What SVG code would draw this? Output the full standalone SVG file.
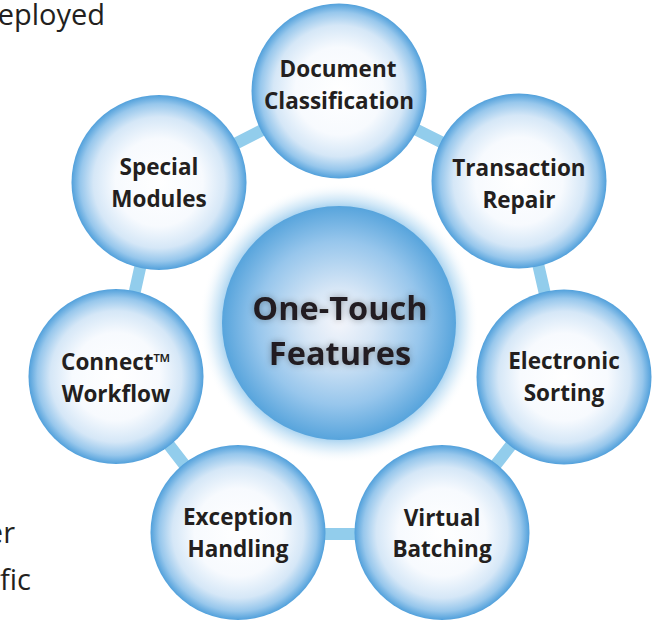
<svg xmlns="http://www.w3.org/2000/svg" width="667" height="620" viewBox="0 0 667 620">
<style>
.lbl{font-family:"Open Sans","Noto Sans","Liberation Sans",sans-serif;font-weight:700;font-size:22.5px;fill:#231f20;text-anchor:middle}
.big{font-family:"Open Sans","Noto Sans","Liberation Sans",sans-serif;font-weight:700;font-size:32.5px;fill:#231f20;text-anchor:middle}
.body{font-family:"Open Sans","Noto Sans","Liberation Sans",sans-serif;font-weight:400;font-size:29px;fill:#231f20;text-anchor:end}
.sat{fill:url(#satGrad)}
.ring{fill:none;stroke:#92cdec;stroke-width:12;stroke-linejoin:round}
</style>
<defs>
<radialGradient id="satGrad" cx="0.5" cy="0.5" r="0.5">
<stop offset="0" stop-color="#ffffff"/>
<stop offset="0.5" stop-color="#f7fafe"/>
<stop offset="0.75" stop-color="#d5e7f7"/>
<stop offset="0.9" stop-color="#97c7ec"/>
<stop offset="1" stop-color="#51a0db"/>
</radialGradient>
<radialGradient id="cenGrad" cx="0.5" cy="0.5" r="0.5">
<stop offset="0" stop-color="#f3f5fb"/>
<stop offset="0.3" stop-color="#d6e6f6"/>
<stop offset="0.7" stop-color="#97c6ec"/>
<stop offset="1" stop-color="#57a4dc"/>
</radialGradient>
<radialGradient id="glow" cx="0.5" cy="0.5" r="0.5">
<stop offset="0.83" stop-color="#a9d3f0" stop-opacity="1"/>
<stop offset="0.91" stop-color="#cfe7f7" stop-opacity="0.6"/>
<stop offset="1" stop-color="#ffffff" stop-opacity="0"/>
</radialGradient>
<filter id="tshadow" x="-20%" y="-40%" width="140%" height="180%">
<feGaussianBlur in="SourceAlpha" stdDeviation="3.5" result="b"/>
<feComponentTransfer in="b" result="s"><feFuncA type="linear" slope="0.35"/></feComponentTransfer>
<feMerge><feMergeNode in="s"/><feMergeNode in="SourceGraphic"/></feMerge>
</filter>
</defs>
<rect width="667" height="620" fill="#ffffff"/>
<text class="body" x="105" y="25">eployed</text>
<text class="body" x="15" y="543">er</text>
<text class="body" x="31" y="590">fic</text>
<g id="connectors">
<polygon class="ring" points="339,91 519,181 564,377 442,534 238,534 116,376.5 159,182.5"/>
</g>
<g id="center">
<circle cx="339" cy="323" r="140" fill="url(#glow)"/>
<circle cx="339" cy="323" r="117" fill="url(#cenGrad)"/>
<g filter="url(#tshadow)">
<text class="big" x="340" y="320">One-Touch</text>
<text class="big" x="340" y="365">Features</text>
</g>
</g>
<g id="doc">
<circle class="sat" cx="339" cy="91" r="87.5"/>
<text class="lbl" x="338" y="77">Document</text>
<text class="lbl" x="339" y="109">Classification</text>
</g>
<g id="trans">
<circle class="sat" cx="519" cy="181" r="87.5"/>
<text class="lbl" x="519" y="176">Transaction</text>
<text class="lbl" x="519" y="208">Repair</text>
</g>
<g id="elec">
<circle class="sat" cx="564" cy="377" r="87.5"/>
<text class="lbl" x="564" y="369">Electronic</text>
<text class="lbl" x="564" y="401">Sorting</text>
</g>
<g id="virtual">
<circle class="sat" cx="442" cy="532.5" r="87.5"/>
<text class="lbl" x="442" y="526">Virtual</text>
<text class="lbl" x="442" y="557">Batching</text>
</g>
<g id="exception">
<circle class="sat" cx="238" cy="532.5" r="87.5"/>
<text class="lbl" x="238" y="525">Exception</text>
<text class="lbl" x="238" y="557">Handling</text>
</g>
<g id="connect">
<circle class="sat" cx="116" cy="376.5" r="87.5"/>
<text class="lbl" x="116" y="370">Connect™</text>
<text class="lbl" x="116" y="402">Workflow</text>
</g>
<g id="special">
<circle class="sat" cx="159" cy="182.5" r="87.5"/>
<text class="lbl" x="159" y="175">Special</text>
<text class="lbl" x="159" y="207">Modules</text>
</g>
</svg>
